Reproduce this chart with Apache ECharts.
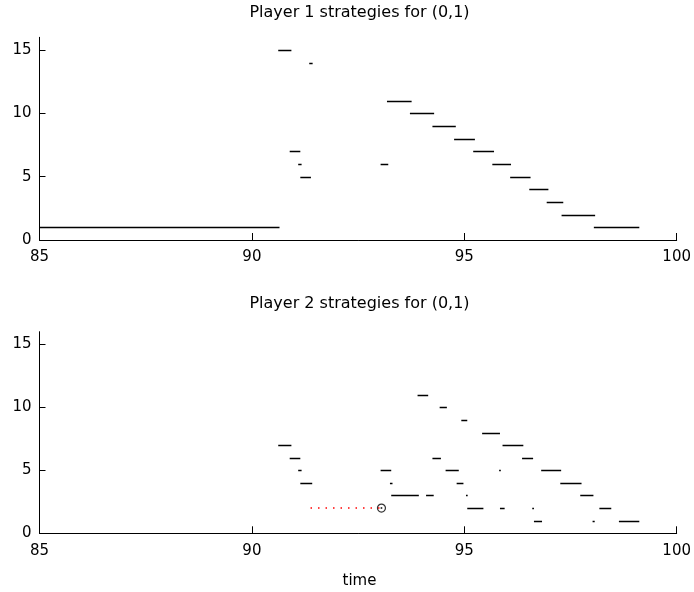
<!DOCTYPE html>
<html><head><meta charset="utf-8">
<script src="https://cdn.jsdelivr.net/npm/echarts@6/dist/echarts.min.js"></script>
<style>html,body{margin:0;padding:0;background:#fff}#c{width:694px;height:592px}</style>
</head><body><div id="c"></div>
<script>
const xTicks = [85, 90, 95, 100];
const yTicks = [0, 5, 10, 15];
const titles = ['Player 1 strategies for (0,1)', 'Player 2 strategies for (0,1)'];
const xName = 'time';

// Player 1 segments: start time, end time, strategy level
const p1Start = [85.00, 90.62, 91.35, 90.89, 91.09, 91.14, 93.18, 93.72, 94.25, 94.76, 95.21, 93.03, 95.66, 96.08, 96.53, 96.94, 97.29, 98.05];
const p1End   = [90.65, 90.93, 91.43, 91.14, 91.17, 91.39, 93.76, 94.29, 94.80, 95.25, 95.70, 93.21, 96.10, 96.56, 96.98, 97.33, 98.08, 99.12];
const p1Level = [1, 15, 14, 7, 6, 5, 11, 10, 9, 8, 7, 6, 6, 5, 4, 3, 2, 1];

// Player 2 segments
const p2Start = [90.62, 90.89, 91.09, 91.14, 93.90, 94.42, 94.93, 95.42, 95.90, 94.25, 96.36, 93.03, 94.56, 95.82, 96.81, 93.25, 94.82, 97.26, 93.28, 94.10, 95.04, 97.73, 95.07, 95.84, 96.60, 98.18, 96.64, 98.02, 98.64];
const p2End   = [90.93, 91.14, 91.17, 91.42, 94.15, 94.59, 95.07, 95.84, 96.39, 94.45, 96.62, 93.28, 94.87, 95.86, 97.28, 93.31, 94.98, 97.76, 93.93, 94.28, 95.08, 98.04, 95.45, 95.95, 96.64, 98.46, 96.83, 98.07, 99.12];
const p2Level = [7, 6, 5, 4, 11, 10, 9, 8, 7, 6, 6, 5, 5, 5, 5, 4, 4, 4, 3, 3, 3, 3, 2, 2, 2, 2, 1, 1, 1];

// Red dotted path and its circle marker (player 2)
const pathX = [91.38, 93.05];
const pathY = [2, 2];
const markerPoint = [93.05, 2];

const FONT = 'DejaVu Sans';

function segData(s, e, l) { return s.map((v, i) => [v, e[i], l[i]]); }

function renderSeg(params, api) {
  const a = api.coord([api.value(0), api.value(2)]);
  const b = api.coord([api.value(1), api.value(2)]);
  const y = Math.round(a[1]) + 0.5;
  return { type: 'line', shape: { x1: a[0], y1: y, x2: b[0], y2: y },
           style: { stroke: '#000', lineWidth: 1.5, lineCap: 'butt' } };
}

function xAxisOpt(gi) {
  return {
    gridIndex: gi, type: 'value', min: 85, max: 100, interval: 5,
    axisLine: { lineStyle: { color: '#000', width: 1 } },
    axisTick: { inside: true, length: 7, customValues: xTicks, lineStyle: { color: '#000' } },
    axisLabel: { customValues: xTicks, color: '#000', fontFamily: FONT, fontSize: 15, margin: 10 },
    splitLine: { show: false }
  };
}
function yAxisOpt(gi) {
  return {
    gridIndex: gi, type: 'value', min: 0, max: 16,
    axisLine: { show: true, lineStyle: { color: '#000', width: 1 } },
    axisTick: { show: true, inside: true, length: 6, customValues: yTicks, lineStyle: { color: '#000' } },
    axisLabel: { customValues: yTicks, color: '#000', fontFamily: FONT, fontSize: 15, margin: 8 },
    splitLine: { show: false }
  };
}

const chart = echarts.init(document.getElementById('c'), null, { renderer: 'canvas' });
chart.setOption({
  animation: false,
  backgroundColor: '#fff',
  title: [
    { text: titles[0], left: 359.5, top: 5, textAlign: 'center', padding: 0,
      textStyle: { fontFamily: FONT, fontSize: 16, fontWeight: 'normal', color: '#000' } },
    { text: titles[1], left: 359.5, top: 296, textAlign: 'center', padding: 0,
      textStyle: { fontFamily: FONT, fontSize: 16, fontWeight: 'normal', color: '#000' } },
    { text: xName, left: 359.5, top: 574, textAlign: 'center', padding: 0,
      textStyle: { fontFamily: FONT, fontSize: 15, fontWeight: 'normal', color: '#000' } }
  ],
  grid: [
    { left: 39.5, right: 14.5, top: 37.3, height: 202.7 },
    { left: 39.5, right: 14.5, top: 331.7, height: 201.6 }
  ],
  xAxis: [xAxisOpt(0), xAxisOpt(1)],
  yAxis: [yAxisOpt(0), yAxisOpt(1)],
  series: [
    { type: 'custom', xAxisIndex: 0, yAxisIndex: 0, renderItem: renderSeg,
      encode: { x: [0, 1], y: 2 }, data: segData(p1Start, p1End, p1Level), clip: true },
    { type: 'custom', xAxisIndex: 1, yAxisIndex: 1, renderItem: renderSeg,
      encode: { x: [0, 1], y: 2 }, data: segData(p2Start, p2End, p2Level), clip: true },
    { type: 'line', xAxisIndex: 1, yAxisIndex: 1, symbol: 'none',
      data: pathX.map((x, i) => [x, pathY[i]]),
      lineStyle: { color: '#ff0000', width: 1.5, type: [1.5, 6] } },
    { type: 'scatter', xAxisIndex: 1, yAxisIndex: 1, symbol: 'circle', symbolSize: 8,
      data: [markerPoint],
      itemStyle: { color: 'rgba(0,0,0,0)', borderColor: '#000', borderWidth: 1.2 } },
    { type: 'scatter', xAxisIndex: 1, yAxisIndex: 1, symbol: 'circle', symbolSize: 2,
      data: [markerPoint], itemStyle: { color: '#000' } }
  ]
});
</script></body></html>
